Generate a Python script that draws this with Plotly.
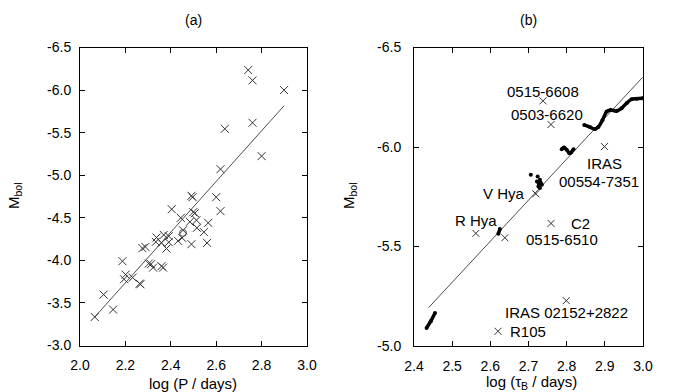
import plotly.graph_objects as go

# ---- panel (a): period vs Mbol ----
logp = [2.741, 2.760, 2.899, 2.760, 2.638, 2.800, 2.619, 2.491, 2.496, 2.600,
        2.404, 2.619, 2.499, 2.506, 2.444, 2.484, 2.513, 2.565, 2.515, 2.454,
        2.546, 2.337, 2.369, 2.391, 2.334, 2.359, 2.391, 2.432, 2.450, 2.491,
        2.560, 2.381, 2.275, 2.288, 2.187, 2.303, 2.313, 2.322, 2.359, 2.366,
        2.201, 2.194, 2.232, 2.263, 2.266, 2.104, 2.146, 2.065]
mbol_a = [-6.235, -6.114, -6.000, -5.616, -5.545, -5.224, -5.071, -4.758, -4.742, -4.742,
          -4.601, -4.578, -4.566, -4.554, -4.499, -4.452, -4.472, -4.440, -4.382, -4.354,
          -4.331, -4.268, -4.299, -4.284, -4.217, -4.205, -4.213, -4.229, -4.264, -4.190,
          -4.205, -4.139, -4.143, -4.158, -3.990, -3.962, -3.955, -3.915, -3.931, -3.915,
          -3.833, -3.778, -3.798, -3.727, -3.719, -3.598, -3.422, -3.335]
circle_logp = [2.454]
circle_mbol = [-4.323]
fit_a_x = [2.065, 2.899]
fit_a_y = [-3.335, -5.816]

# ---- panel (b): tau_B vs Mbol ----
names_b = ["0515-6608", "0503-6620", "IRAS 00554-7351", "V Hya", "C2",
           "0515-6510", "R Hya", "IRAS 02152+2822", "R105"]
tau_b = [2.738, 2.759, 2.899, 2.719, 2.759, 2.638, 2.562, 2.799, 2.620]
mbol_b = [-6.232, -6.113, -6.002, -5.765, -5.616, -5.544, -5.566, -5.228, -5.074]
fit_b_x = [2.438, 2.999]
fit_b_y = [-5.192, -6.350]

# model tracks (thick dotted curves)
track1_x = [2.433, 2.444, 2.455]
track1_y = [-5.091, -5.125, -5.166]
track2_x = [2.621, 2.625]
track2_y = [-5.564, -5.588]
track3_x = [2.787, 2.793, 2.800, 2.807, 2.811, 2.818]
track3_y = [-5.989, -5.997, -5.986, -5.969, -5.972, -5.989]
track4_x = [2.846, 2.861, 2.874, 2.883, 2.894, 2.905, 2.915, 2.931, 2.944, 2.957,
            2.970, 2.983, 2.999]
track4_y = [-6.111, -6.100, -6.090, -6.100, -6.136, -6.178, -6.186, -6.181, -6.195,
            -6.220, -6.240, -6.243, -6.245]
vhya_x = [2.706, 2.724, 2.730, 2.722, 2.726, 2.735, 2.730, 2.727, 2.732]
vhya_y = [-5.860, -5.852, -5.835, -5.827, -5.802, -5.810, -5.794, -5.815, -5.822]

# label text and positions (data coords of panel b)
lab_text = ["0515-6608", "0503-6620", "IRAS", "00554-7351", "V Hya", "R Hya",
            "C2", "0515-6510", "IRAS 02152+2822", "R105"]
lab_x = [2.739, 2.748, 2.899, 2.886, 2.636, 2.562, 2.835, 2.787, 2.800, 2.698]
lab_y = [-6.278, -6.161, -5.916, -5.827, -5.765, -5.630, -5.616, -5.534, -5.167, -5.074]

xt_a = [2.0, 2.2, 2.4, 2.6, 2.8, 3.0]
yt_a = [-6.5, -6.0, -5.5, -5.0, -4.5, -4.0, -3.5, -3.0]
xt_b = [2.4, 2.5, 2.6, 2.7, 2.8, 2.9, 3.0]
yt_b = [-6.5, -6.0, -5.5, -5.0]

INK = "#222"
FONT = "Liberation Sans, Arial, sans-serif"

fig = go.Figure()

fig.add_trace(go.Scatter(x=fit_a_x, y=fit_a_y, mode="lines",
                         line=dict(color=INK, width=0.8), xaxis="x", yaxis="y"))
fig.add_trace(go.Scatter(x=logp, y=mbol_a, mode="markers",
                         marker=dict(symbol="x-thin", size=8, line=dict(color="#333", width=1)),
                         xaxis="x", yaxis="y"))
fig.add_trace(go.Scatter(x=circle_logp, y=circle_mbol, mode="markers",
                         marker=dict(symbol="circle-open", size=7, color="#555",
                                     line=dict(color="#555", width=1)),
                         xaxis="x", yaxis="y"))

fig.add_trace(go.Scatter(x=fit_b_x, y=fit_b_y, mode="lines",
                         line=dict(color=INK, width=0.8), xaxis="x2", yaxis="y2"))
fig.add_trace(go.Scatter(x=tau_b, y=mbol_b, mode="markers",
                         marker=dict(symbol="x-thin", size=7, line=dict(color="#333", width=1)),
                         xaxis="x2", yaxis="y2"))
for tx, ty in [(track1_x, track1_y), (track2_x, track2_y),
               (track3_x, track3_y), (track4_x, track4_y)]:
    fig.add_trace(go.Scatter(x=tx, y=ty, mode="lines+markers",
                             line=dict(color="black", width=3.5, shape="spline"),
                             marker=dict(color="black", size=4),
                             xaxis="x2", yaxis="y2"))
fig.add_trace(go.Scatter(x=vhya_x, y=vhya_y, mode="markers",
                         marker=dict(color="black", size=4),
                         xaxis="x2", yaxis="y2"))

for t, x, y in zip(lab_text, lab_x, lab_y):
    fig.add_annotation(x=x, y=y, xref="x2", yref="y2", text=t, showarrow=False,
                       font=dict(size=15, color="black", family=FONT))

# panel titles and axis titles (pixel positions converted to paper fractions)
for t, x, y, ang, fs in [("(a)", 193, 20, 0, 14), ("(b)", 528, 20, 0, 14),
                         ("log (P / days)", 193, 383, 0, 15),
                         ("log (τ<sub>B</sub> / days)", 531, 382, 0, 15),
                         ("M<sub>bol</sub>", 14, 196, -90, 15),
                         ("M<sub>bol</sub>", 349, 196, -90, 15)]:
    fig.add_annotation(x=x / 699, y=1 - y / 392, xref="paper", yref="paper", text=t,
                       showarrow=False, textangle=ang, xanchor="center", yanchor="middle",
                       font=dict(size=fs, color="black", family=FONT))

axis_common = dict(showline=True, linecolor="black", linewidth=1, mirror="ticks",
                   ticks="inside", ticklen=5, tickcolor="black", showgrid=False,
                   zeroline=False, automargin=False,
                   tickfont=dict(size=14, color="black", family=FONT))

fig.update_layout(
    width=699, height=392,
    margin=dict(l=0, r=0, t=0, b=0, pad=0, autoexpand=False),
    paper_bgcolor="white", plot_bgcolor="white",
    showlegend=False,
    xaxis=dict(domain=[80 / 699, 307 / 699], range=[2.0, 3.0], anchor="y",
               tickvals=xt_a, ticktext=[f"{v:.1f}" for v in xt_a],
               ticklabelstandoff=7, **axis_common),
    yaxis=dict(domain=[1 - 345.5 / 392, 1 - 47.5 / 392], range=[-3.0, -6.5], anchor="x",
               tickvals=yt_a, ticktext=[f"{v:.1f}" for v in yt_a],
               ticklabelstandoff=5, **axis_common),
    xaxis2=dict(domain=[414 / 699, 643 / 699], range=[2.4, 3.0], anchor="y2",
                tickvals=xt_b, ticktext=[f"{v:.1f}" for v in xt_b],
                ticklabelstandoff=7, **axis_common),
    yaxis2=dict(domain=[1 - 346 / 392, 1 - 47.5 / 392], range=[-5.0, -6.5], anchor="x2",
                tickvals=yt_b, ticktext=[f"{v:.1f}" for v in yt_b],
                ticklabelstandoff=9, **axis_common),
)

fig.write_html("out.html", config={"displayModeBar": False},
               post_script="document.body.style.margin='0';")
